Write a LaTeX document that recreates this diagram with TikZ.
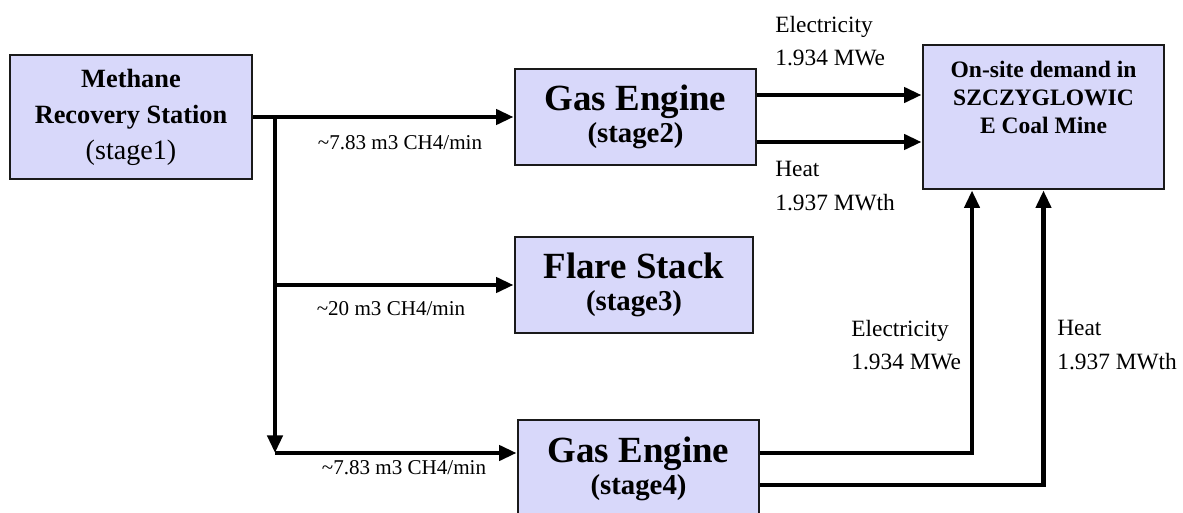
\documentclass[tikz,border=0pt]{standalone}
\usepackage{fontspec}
\setmainfont{Liberation Serif}
\usepackage{tikz}
\usetikzlibrary{arrows.meta}
\definecolor{my_boxfill}{HTML}{D8D8FA}
\definecolor{my_frame}{HTML}{1A1A1A}

\begin{document}
\begin{tikzpicture}[
    x=0.02cm, y=-0.02cm,
    stagebox/.style={draw=my_frame, line width=1.6pt, fill=my_boxfill, align=center, inner sep=0pt},
    bigtitle/.style={font=\fontsize{21}{18}\selectfont\bfseries},
    flow/.style={draw=black, line width=2.8pt, -{Triangle[length=10pt, width=8.5pt]}},
    flowlabel/.style={font=\fontsize{12}{14}\selectfont, inner sep=0pt},
    powerlabel/.style={font=\fontsize{13.3}{19}\selectfont, align=left, anchor=west, inner sep=0pt}
]
\useasboundingbox (0,0) rectangle (1183,513);

% --- Boxes ---
\node[stagebox, minimum width=4.84cm, minimum height=2.48cm,
      font=\fontsize{15}{20.5}\selectfont\bfseries] (methane) at (131,117)
    {Methane\\Recovery Station\\{\mdseries\fontsize{16}{20.5}\selectfont (stage1)}};
\node[stagebox, bigtitle, minimum width=4.82cm, minimum height=1.92cm] (ge2) at (635.5,117)
    {Gas Engine\\{\fontsize{16.4}{18}\selectfont (stage2)}};
\node[stagebox, bigtitle, minimum width=4.76cm, minimum height=1.92cm] (flare) at (634,285)
    {Flare Stack\\{\fontsize{16.4}{18}\selectfont (stage3)}};
\node[stagebox, bigtitle, minimum width=4.82cm, minimum height=1.96cm] (ge4) at (638.5,469)
    {Gas Engine\\{\fontsize{16.4}{18}\selectfont (stage4)}};
\node[stagebox, minimum width=4.82cm, minimum height=2.88cm] (onsite) at (1043.5,117) {};
\node[font=\fontsize{13.4}{16}\selectfont\bfseries, align=center, anchor=north, inner sep=0pt]
    (onsitetext) at ([yshift=-0.34cm]onsite.north)
    {On-site demand in\\SZCZYGLOWIC\\E Coal Mine};

% --- Methane flows ---
\coordinate (split) at (275,117);
\coordinate (corner) at (275,453);
\coordinate (flaretap) at (275,285);
\draw[flow] (methane.east) -- (ge2.west);
\draw[flow] (split) -- (corner);
\draw[flow] (flaretap) -- (flare.west);
\draw[flow] (corner) -- (corner -| ge4.west);

\node[flowlabel] (lblflow1) at (400,143) {\textasciitilde7.83 m3 CH4/min};
\node[flowlabel] (lblflow2) at (391,309) {\textasciitilde20 m3 CH4/min};
\node[flowlabel] (lblflow3) at (404,468) {\textasciitilde7.83 m3 CH4/min};

% --- Power from stage2 ---
\coordinate (elec2) at ([yshift=0.44cm]ge2.east);
\coordinate (heat2) at ([yshift=-0.5cm]ge2.east);
\draw[flow] (elec2) -- (elec2 -| onsite.west);
\draw[flow] (heat2) -- (heat2 -| onsite.west);

\node[powerlabel] (lblelec2) at (775,41) {Electricity\\1.934 MWe};
\node[powerlabel] (lblheat2) at (775,186) {Heat\\1.937 MWth};

% --- Power from stage4 ---
\coordinate (elec4) at ([yshift=0.32cm]ge4.east);
\coordinate (heat4) at ([yshift=-0.32cm]ge4.east);
\draw[flow] (elec4) -| ([xshift=-1.43cm]onsite.south);
\draw[flow] (heat4) -| (onsite.south);

\node[powerlabel] (lblelec4) at (851,345) {Electricity\\1.934 MWe};
\node[powerlabel] (lblheat4) at (1057,345) {Heat\\1.937 MWth};

\end{tikzpicture}
\end{document}
